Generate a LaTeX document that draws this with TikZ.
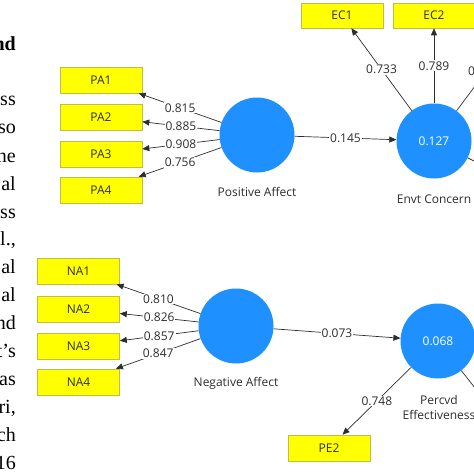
\documentclass[tikz,border=0pt]{standalone}
\usepackage{fontspec}
\setmainfont{Liberation Serif}
\newfontfamily\diagfont{Open Sans}
\usetikzlibrary{arrows.meta}
\definecolor{lvblue}{RGB}{30,144,255}
\definecolor{indyellow}{RGB}{255,255,0}
\definecolor{indborder}{RGB}{190,190,70}
\definecolor{txtgray}{RGB}{45,45,45}
\begin{document}
\begin{tikzpicture}[x=1pt,y=-1pt,
 indbox/.style={draw=indborder, fill=indyellow, minimum width=82pt, minimum height=26pt, inner sep=0pt, font=\diagfont\fontsize{12}{14}\selectfont, text=txtgray, line width=0.6pt},
 latent/.style={circle, fill=lvblue, minimum size=75pt, inner sep=0pt, font=\diagfont\fontsize{12}{14}\selectfont, text=white},
 lvname/.style={font=\diagfont\fontsize{12}{15}\selectfont, text=txtgray, align=center, inner sep=0pt},
 link/.style={draw=txtgray, line width=0.7pt, -{Triangle[length=7pt,width=6pt]}},
 plainlink/.style={draw=txtgray, line width=0.7pt},
 coef/.style={fill=white, inner sep=1pt, font=\diagfont\fontsize{12}{14}\selectfont, text=txtgray},
 sidetext/.style={anchor=base east, font=\fontsize{20}{24}\selectfont, inner sep=0pt}]
\useasboundingbox (0,0) rectangle (474,474);

% side text fragments
\node[sidetext, font=\bfseries\fontsize{20}{24}\selectfont] (s0) at (16,50) {nd};
\node[sidetext] (s1) at (16,105) {ss};
\node[sidetext] (s2) at (16,133) {so};
\node[sidetext] (s3) at (16,162) {ne};
\node[sidetext] (s4) at (16,190) {al};
\node[sidetext] (s5) at (16,218) {ss};
\node[sidetext] (s6) at (16,245) {l.,};
\node[sidetext] (s7) at (16,273) {al};
\node[sidetext] (s8) at (16,301) {al};
\node[sidetext] (s9) at (16,329) {nd};
\node[sidetext] (s10) at (16,357) {t's};
\node[sidetext] (s11) at (16,385) {as};
\node[sidetext] (s12) at (16,413) {ri,};
\node[sidetext] (s13) at (16,441) {ch};
\node[sidetext] (s14) at (16,469) {16};

% indicator boxes
\node[indbox] (PA1) at (101,80) {PA1};
\node[indbox] (PA2) at (101,117) {PA2};
\node[indbox] (PA3) at (101,154) {PA3};
\node[indbox] (PA4) at (101,190) {PA4};
\node[indbox] (NA1) at (78.5,271) {NA1};
\node[indbox] (NA2) at (78.5,309) {NA2};
\node[indbox] (NA3) at (78.5,346) {NA3};
\node[indbox] (NA4) at (78.5,382) {NA4};
\node[indbox, minimum height=25pt] (EC1) at (342,15.5) {EC1};
\node[indbox, minimum height=25pt] (EC2) at (434,15.5) {EC2};
\node[indbox] (PE2) at (329,448) {PE2};

% latent variables
\node[latent] (PA) at (257,135) {};
\node[latent] (EC) at (434,141) {0.127};
\node[latent] (NA) at (236,326) {};
\node[latent] (PE) at (438,341) {0.068};

\node[lvname] (PAlab) at (257,192) {Positive Affect};
\node[lvname] (EClab) at (434,199) {Envt Concern};
\node[lvname] (NAlab) at (236,383) {Negative Affect};
\node[lvname] (PElab) at (439,407) {Percvd\\Effectiveness};

% loadings
\draw[link] (PA) -- node[coef]{0.815} (PA1);
\draw[link] (PA) -- node[coef]{0.885} (PA2);
\draw[link] (PA) -- node[coef]{0.908} (PA3);
\draw[link] (PA) -- node[coef]{0.756} (PA4);
\draw[link] (NA) -- node[coef]{0.810} (NA1);
\draw[link] (NA) -- node[coef]{0.826} (NA2);
\draw[link] (NA) -- node[coef]{0.857} (NA3);
\draw[link] (NA) -- node[coef]{0.847} (NA4);
\draw[link] (EC) -- node[coef]{0.733} (EC1);
\draw[link] (EC) -- node[coef]{0.789} (EC2);
\draw[link] (PE) -- node[coef]{0.748} (PE2);

% paths
\draw[link] (PA) -- node[coef]{0.145} (EC);
\draw[link] (NA) -- node[coef]{0.073} (PE);

% cropped connectors at the right edge
\coordinate (ECout1) at (490,66);
\coordinate (ECout2) at (490,169);
\coordinate (PEout1) at (490,407);
\draw[plainlink] (EC) -- (ECout1);
\draw[plainlink] (EC) -- (ECout2);
\draw[plainlink] (PE) -- (PEout1);
\node[coef, anchor=west] (ECcoef3) at (467,71) {0};
\end{tikzpicture}
\end{document}
